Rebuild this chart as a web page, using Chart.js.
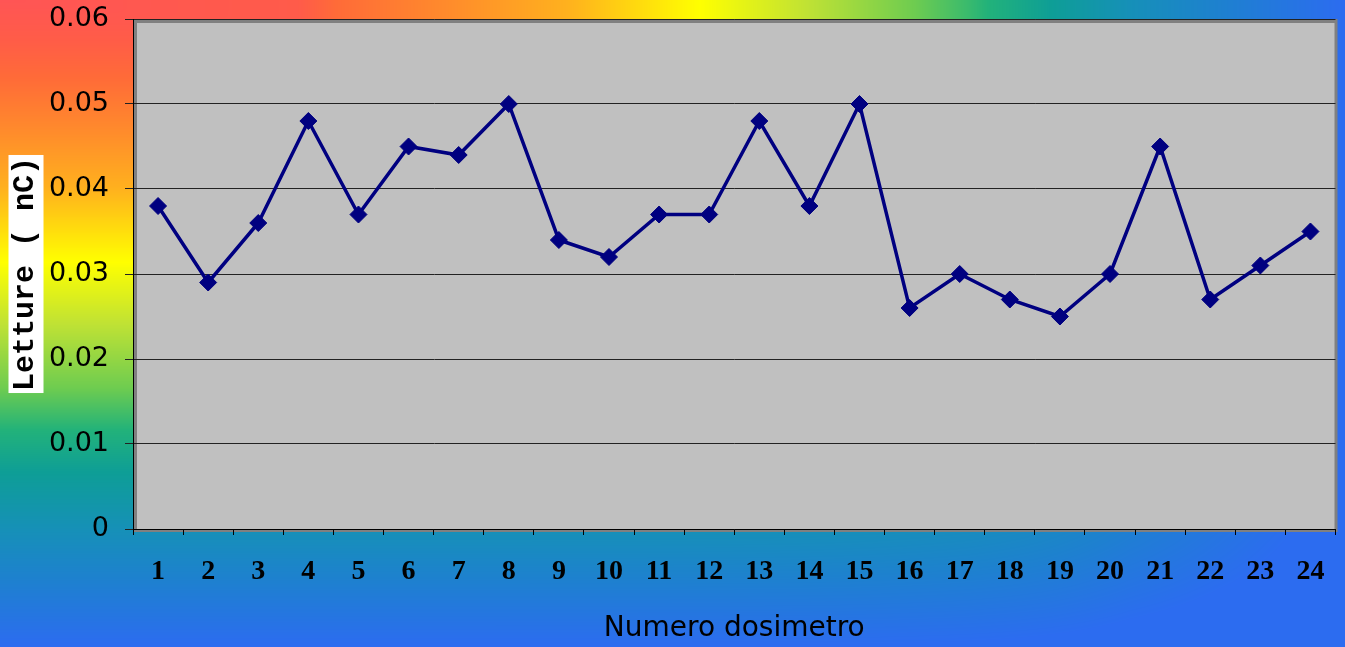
<!DOCTYPE html>
<html>
<head>
<meta charset="utf-8">
<script src="https://cdn.jsdelivr.net/npm/chart.js@4/dist/chart.umd.min.js"></script>
<style>
  html, body { margin: 0; padding: 0; background: #2c6cf0; }
  #wrap { width: 1345px; height: 647px; }
</style>
</head>
<body>
<div id="wrap"><canvas id="c" width="1345" height="647"></canvas></div>
<script>
// Dosimeter numbers along the x axis
const dosimetri = ['1','2','3','4','5','6','7','8','9','10','11','12','13','14','15','16','17','18','19','20','21','22','23','24'];
// Readings in nC for each dosimeter
const letture = [0.038, 0.029, 0.036, 0.048, 0.037, 0.045, 0.044, 0.050, 0.034, 0.032, 0.037, 0.037,
                 0.048, 0.038, 0.050, 0.026, 0.030, 0.027, 0.025, 0.030, 0.045, 0.027, 0.031, 0.035];
// Value axis range and step
const yMin = 0;
const yMax = 0.06;
const yStep = 0.01;

const xTitle = 'Numero dosimetro';
const yTitle = 'Letture ( nC)';

// Rainbow ramp for the page backdrop (position, r, g, b)
const ramp = [
  [0, 255, 85, 85], [0.06, 255, 92, 72], [0.12, 255, 107, 56], [0.20, 255, 138, 44],
  [0.29, 255, 176, 30], [0.405, 255, 255, 0], [0.50, 192, 226, 52], [0.60, 110, 204, 80],
  [0.665, 34, 178, 122], [0.73, 14, 158, 150], [0.82, 22, 144, 184], [0.90, 30, 128, 208],
  [1, 44, 108, 240]
];
// How the ramp advances along the top edge (x fraction -> ramp position)
const alongTop = [[0, 0], [0.22, 0.05], [0.25, 0.12], [0.34, 0.21], [0.43, 0.30], [0.52, 0.405],
                  [0.60, 0.50], [0.68, 0.60], [0.72, 0.645], [0.775, 0.72], [0.84, 0.82], [0.91, 0.90], [1, 1]];

function interp(table, t) {
  if (t <= table[0][0]) return table[0].slice(1);
  for (let i = 1; i < table.length; i++) {
    if (t <= table[i][0]) {
      const a = table[i - 1], b = table[i];
      const f = (t - a[0]) / (b[0] - a[0]);
      return a.slice(1).map((v, k) => v + (b[k + 1] - v) * f);
    }
  }
  return table[table.length - 1].slice(1);
}

let backdropCache = null;
function buildBackdrop(W, H) {
  const cv = document.createElement('canvas');
  cv.width = W; cv.height = H;
  const c2 = cv.getContext('2d');
  const img = c2.createImageData(W, H);
  const px = img.data;
  const ux = new Float32Array(W);
  for (let x = 0; x < W; x++) ux[x] = interp(alongTop, x / (W - 1))[0];
  const p = 7;
  for (let y = 0; y < H; y++) {
    const v = y / (H - 1);
    const vp = Math.pow(v, p);
    for (let x = 0; x < W; x++) {
      const t = Math.min(1, Math.pow(Math.pow(ux[x], p) + vp, 1 / p));
      const col = interp(ramp, t);
      const i = (y * W + x) * 4;
      px[i] = col[0]; px[i + 1] = col[1]; px[i + 2] = col[2]; px[i + 3] = 255;
    }
  }
  c2.putImageData(img, 0, 0);
  return cv;
}

const yTitlePad = 7;
const yTitleFont = { family: '"Liberation Mono", monospace', size: 30, weight: 'bold' };

const backdrop = {
  id: 'backdrop',
  beforeDraw(chart) {
    const ctx = chart.ctx;
    const W = chart.width, H = chart.height;
    const a = chart.chartArea;
    if (!backdropCache) backdropCache = buildBackdrop(W, H);
    ctx.save();
    ctx.drawImage(backdropCache, 0, 0);

    // plot frame with shadowed border
    ctx.fillStyle = '#808080';
    ctx.fillRect(a.left, a.top, a.right - a.left + 2, a.bottom - a.top + 3);
    ctx.fillStyle = '#c0c0c0';
    ctx.fillRect(a.left + 4, a.top + 4, a.right - a.left - 5, a.bottom - a.top - 4);

    // white plate behind the value axis title
    const ys = chart.scales.y;
    ctx.font = `${yTitleFont.weight} ${yTitleFont.size}px ${yTitleFont.family}`;
    const tw = ctx.measureText(yTitle).width;
    const lh = yTitleFont.size * 1.2;
    const cx = ys.left + yTitlePad + lh / 2 + 1;
    const cy = (a.top + a.bottom) / 2;
    ctx.fillStyle = '#ffffff';
    ctx.fillRect(cx - 17.5, cy - tw / 2 - 2, 35, tw + 4);
    ctx.restore();
  }
};

new Chart(document.getElementById('c'), {
  type: 'line',
  data: {
    labels: dosimetri,
    datasets: [{
      data: letture,
      borderColor: '#000080',
      borderWidth: 3.5,
      pointStyle: 'rectRot',
      pointRadius: 8.5,
      pointBorderWidth: 1,
      pointBackgroundColor: '#000080',
      pointBorderColor: '#000080',
      tension: 0
    }]
  },
  options: {
    responsive: false,
    animation: false,
    events: [],
    layout: { padding: { top: 19, right: 7, left: 0, bottom: 0 } },
    plugins: { legend: { display: false }, tooltip: { enabled: false } },
    scales: {
      x: {
        type: 'category',
        offset: true,
        afterFit(s) { s.height = 118; s.paddingLeft = 0; s.paddingRight = 0; },
        grid: { display: true, drawOnChartArea: false, offset: true, color: '#000', tickLength: 6, lineWidth: 1 },
        border: { display: true, color: '#000', width: 1 },
        ticks: {
          color: '#000', padding: 20, maxRotation: 0, autoSkip: false,
          font: { family: '"Liberation Serif", "Times New Roman", serif', size: 28, weight: 'bold' }
        },
        title: {
          display: true, text: xTitle, color: '#000',
          padding: { top: 0, bottom: 1 },
          font: { family: '"DejaVu Sans", sans-serif', size: 28 }
        }
      },
      y: {
        min: yMin, max: yMax,
        afterFit(s) { s.width = 133; s.paddingTop = 0; s.paddingBottom = 0; },
        grid: { color: '#222', tickLength: 8, lineWidth: 1 },
        border: { display: true, color: '#000', width: 1 },
        ticks: {
          stepSize: yStep, color: '#000', padding: 16,
          font: { family: '"DejaVu Sans", sans-serif', size: 27 },
          callback: v => String(Math.round(v * 100) / 100)
        },
        title: {
          display: true, text: yTitle, color: '#000',
          padding: { top: yTitlePad, bottom: 0 },
          font: yTitleFont
        }
      }
    }
  },
  plugins: [backdrop]
});
</script>
</body>
</html>
